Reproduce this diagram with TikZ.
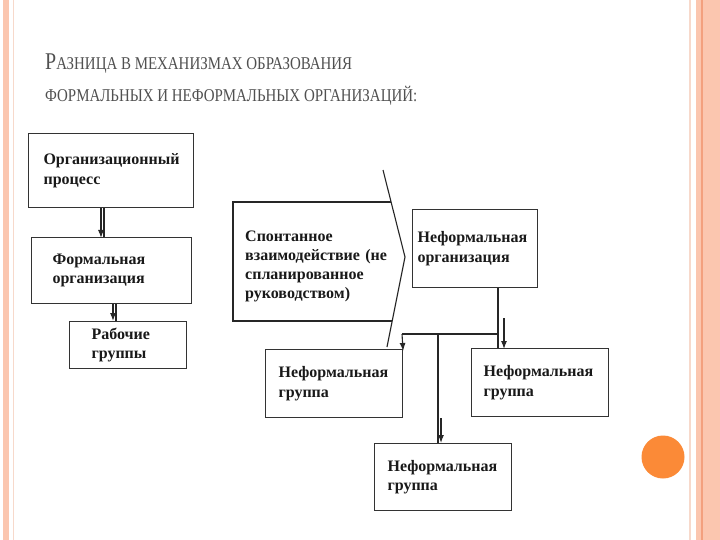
\documentclass[tikz,border=0pt]{standalone}
\usepackage{fontspec}
\setmainfont{Liberation Serif}
\usetikzlibrary{arrows.meta}
\definecolor{peach}{HTML}{FBC6AF}
\definecolor{peachdark}{HTML}{F3A07E}
\definecolor{peachlight}{HTML}{F7D9CB}
\definecolor{orangedot}{HTML}{FB8A37}
\definecolor{titlegray}{HTML}{505050}
\tikzset{
  box/.style={draw=black!80, line width=1.1pt, rectangle, anchor=north west, align=left,
    font=\fontsize{16}{19.5}\selectfont\bfseries, text=black!90, inner ysep=0pt},
  conn/.style={draw=black!85, line width=1.1pt},
  arr/.style={conn, -{Latex[length=8pt,width=6pt]}},
}
\newcommand{\ttlscale}[1]{\scalebox{0.83}[1]{#1}}
\begin{document}
\begin{tikzpicture}[x=1pt,y=-1pt]
\useasboundingbox (0,0) rectangle (720,540);
\fill[white] (0,0) rectangle (720,540);
% side decorations
\fill[peach] (3,0) rectangle (9,540);
\draw[peachlight, line width=0.8pt] (13,0) -- (13,540);
\draw[peachlight, line width=2pt] (690,0) -- (690,540);
\fill[peach] (696,0) rectangle (720,540);
\draw[peachdark, line width=1.5pt] (702,0) -- (702,540);
\fill[orangedot] (663,457) circle (21.5);
% title
\node[anchor=base west, inner sep=0pt, text=titlegray] (t1) at (45,70)
  {\ttlscale{\fontsize{24}{24}\selectfont Р\fontsize{18}{18}\selectfont АЗНИЦА В МЕХАНИЗМАХ ОБРАЗОВАНИЯ}};
\node[anchor=base west, inner sep=0pt, text=titlegray] (t2) at (45,102)
  {\ttlscale{\fontsize{18}{18}\selectfont ФОРМАЛЬНЫХ И НЕФОРМАЛЬНЫХ ОРГАНИЗАЦИЙ:}};
% left column
\node[box, minimum width=165, minimum height=74, inner xsep=15, text width=135] (b1) at (28,133)
  {Организационный\\процесс};
\node[box, minimum width=160, minimum height=66, inner xsep=21, text width=118] (b2) at (31,237)
  {Формальная\\организация};
\node[box, minimum width=117, minimum height=47, inner xsep=22, text width=73] (b3) at (69,321)
  {Рабочие\\группы};
\coordinate (a1) at (101,0); \coordinate (a1b) at (104,0);
\draw[arr] (b1.south -| a1) -- ([yshift=-1pt]b2.north -| a1);
\draw[conn] (b1.south -| a1b) -- (b2.north -| a1b);
\coordinate (a2) at (113,0); \coordinate (a2b) at (116,0);
\draw[arr] (b2.south -| a2) -- (b3.north -| a2);
\draw[conn] (b2.south -| a2b) -- (b3.north -| a2b);
% spontaneous interaction (chevron)
\node[anchor=north west, align=left, inner sep=0pt, text width=170,
  font=\fontsize{16}{19}\selectfont\bfseries, text=black!90] (sp) at (245,231)
  {Спонтанное\\взаимодействие (не\\спланированное\\руководством)};
\coordinate (c1) at (383,170);
\coordinate (c2) at (405,257);
\coordinate (c3) at (387,347);
\draw[conn] (391,202) -- (233,202) -- (233,321) -- (392,321);
\draw[conn] (c1) -- (c2) -- (c3);
% informal organisation
\node[box, minimum width=125, minimum height=78, inner xsep=5, text width=115] (io) at (412,209)
  {Неформальная\\организация};
\node[box, minimum width=137, minimum height=68, inner xsep=13, text width=111] (lg) at (265,349)
  {Неформальная\\группа};
\node[box, minimum width=137, minimum height=68, inner xsep=12, text width=113] (rg) at (471,348)
  {Неформальная\\группа};
\node[box, minimum width=137, minimum height=67, inner xsep=13, text width=111] (bg) at (374,443)
  {Неформальная\\группа};
\coordinate (hr) at (498,334);
\coordinate (hl) at (402,334);
\coordinate (hm) at (438,334);
\draw[conn] (io.south -| hr) -- (rg.north -| hr);
\draw[conn] (hl) -- (hr);
\draw[arr] (hl) -- ([yshift=-2pt]lg.north east);
\draw[conn] (hm) -- (bg.north -| hm);
\coordinate (m1) at (441,418);
\draw[arr] (m1) -- (bg.north -| m1);
\coordinate (r1) at (504,318);
\draw[arr] (r1) -- ([yshift=-1pt]rg.north -| r1);
\end{tikzpicture}
\end{document}
